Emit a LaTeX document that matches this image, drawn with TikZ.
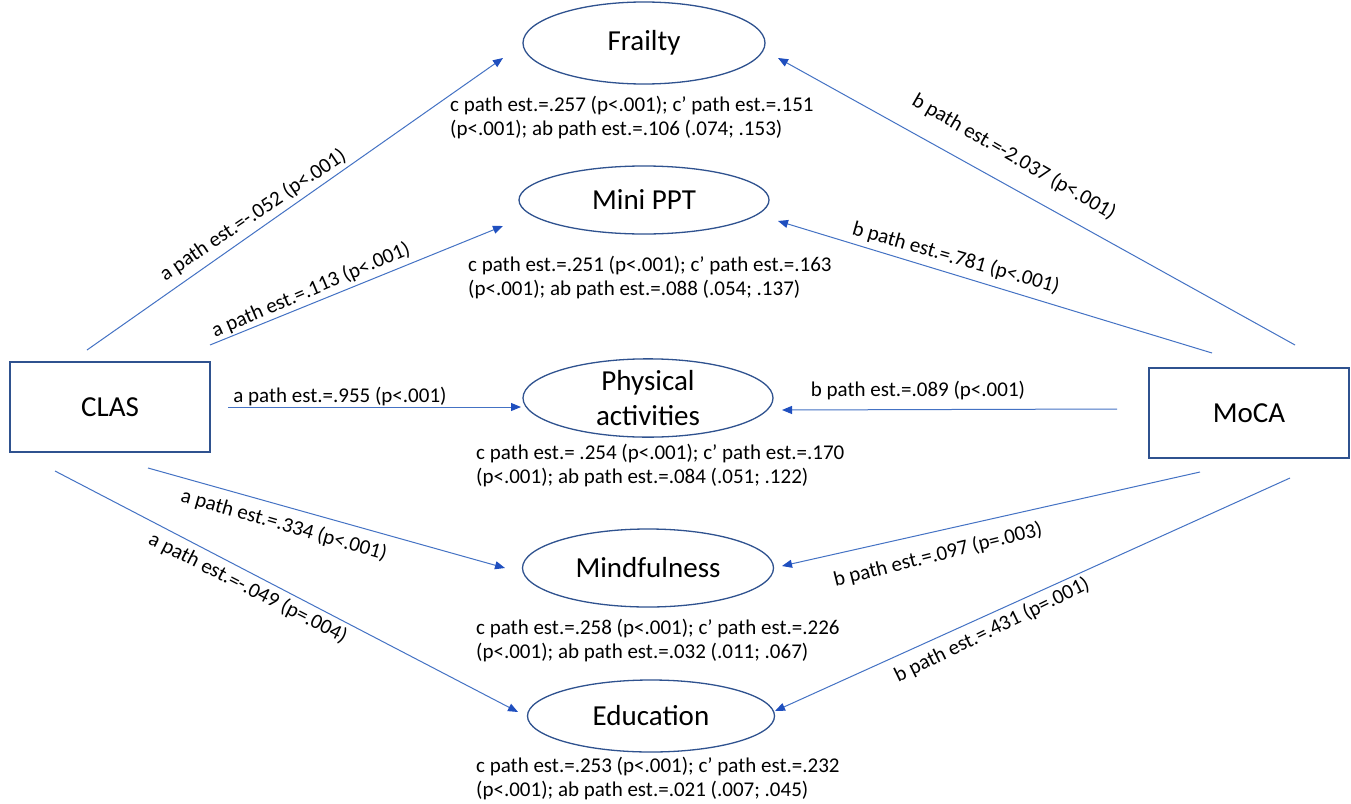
\documentclass[tikz,border=0pt]{standalone}
\usepackage{fontspec}
\setmainfont{Carlito}
\usetikzlibrary{shapes.geometric,arrows.meta}
\definecolor{lineblue}{HTML}{4472C4}
\definecolor{nodeblue}{HTML}{2F528F}
\definecolor{tipblue}{HTML}{1F4FBF}
\begin{document}
\begin{tikzpicture}[x=1pt,y=-1pt,
  box/.style={draw=nodeblue,line width=1.3pt,minimum width=200pt,minimum height=90pt,inner sep=0pt,font=\fontsize{29}{32}\selectfont},
  ell/.style={ellipse,draw=nodeblue,line width=1.3pt,inner sep=0pt,align=center,font=\fontsize{29}{35}\selectfont},
  conn/.style={draw=lineblue,line width=1pt,-{Triangle[length=10pt,width=8pt,color=tipblue]}},
  lbl/.style={inner sep=0pt,font=\fontsize{21}{24}\selectfont},
  res/.style={inner sep=0pt,align=left,anchor=west,font=\fontsize{21}{24}\selectfont}]
\useasboundingbox (0,0) rectangle (1351,803);
\fill[white] (0,0) rectangle (1351,803);

% main nodes
\node[box] (clas) at (110,407) {CLAS};
\node[box] (moca) at (1249,413) {MoCA};
\node[ell,minimum width=242pt,minimum height=82pt] (frailty) at (644,43) {Frailty};
\node[ell,minimum width=250pt,minimum height=68pt] (ppt) at (644,200) {Mini PPT};
\node[ell,minimum width=250pt,minimum height=75pt] (phys) at (648,398) {Physical\\activities};
\node[ell,minimum width=251pt,minimum height=78pt] (mind) at (648,568) {Mindfulness};
\node[ell,minimum width=247pt,minimum height=72pt] (edu) at (651,716) {Education};

% result texts
\node[res] (rfrailty) at (450,118) {c path est.=.257 (p<.001); c’ path est.=.151\\(p<.001); ab path est.=.106 (.074; .153)};
\node[res] (rppt) at (468,278) {c path est.=.251 (p<.001); c’ path est.=.163\\(p<.001); ab path est.=.088 (.054; .137)};
\node[res] (rphys) at (476,466) {c path est.= .254 (p<.001); c’ path est.=.170\\(p<.001); ab path est.=.084 (.051; .122)};
\node[res] (rmind) at (476,641) {c path est.=.258 (p<.001); c’ path est.=.226\\(p<.001); ab path est.=.032 (.011; .067)};
\node[res] (redu) at (476,778) {c path est.=.253 (p<.001); c’ path est.=.232\\(p<.001); ab path est.=.021 (.007; .045)};

% connector ends
\coordinate (ca1) at (87,350);   \coordinate (ta1) at (503,58);
\coordinate (ca2) at (210,345);  \coordinate (ta2) at (503,226);
\coordinate (ca3) at (228,407);  \coordinate (ta3) at (521,407);
\coordinate (ca4) at (148,468);  \coordinate (ta4) at (505,568);
\coordinate (ca5) at (55,471);   \coordinate (ta5) at (518,712);
\coordinate (cb1) at (1295,345); \coordinate (tb1) at (778,58);
\coordinate (cb2) at (1212,353); \coordinate (tb2) at (778,221);
\coordinate (cb3) at (1117,409); \coordinate (tb3) at (782,410);
\coordinate (cb4) at (1200,472); \coordinate (tb4) at (782,566);
\coordinate (cb5) at (1290,478); \coordinate (tb5) at (775,711);

\draw[conn] (ca1) -- (ta1);
\draw[conn] (ca2) -- (ta2);
\draw[conn] (ca3) -- (ta3);
\draw[conn] (ca4) -- (ta4);
\draw[conn] (ca5) -- (ta5);
\draw[conn] (cb1) -- (tb1);
\draw[conn] (cb2) -- (tb2);
\draw[conn] (cb3) -- (tb3);
\draw[conn] (cb4) -- (tb4);
\draw[conn] (cb5) -- (tb5);

% path labels
\node[lbl,rotate=34] (la1) at (253,215) {a path est.=-.052 (p<.001)};
\node[lbl,rotate=23] (la2) at (311,290) {a path est.=.113 (p<.001)};
\node[lbl] (la3) at (340,397) {a path est.=.955 (p<.001)};
\node[lbl,rotate=-16] (la4) at (284,525) {a path est.=.334 (p<.001)};
\node[lbl,rotate=-27] (la5) at (248,588) {a path est.=-.049 (p=.004)};
\node[lbl,rotate=-30] (lb1) at (1014,157) {b path est.=-2.037 (p<.001)};
\node[lbl,rotate=-16] (lb2) at (956,258) {b path est.=.781 (p<.001)};
\node[lbl] (lb3) at (918,391) {b path est.=.089 (p<.001)};
\node[lbl,rotate=14] (lb4) at (938,555) {b path est.=.097 (p=.003)};
\node[lbl,rotate=26] (lb5) at (992,630) {b path est.=.431 (p=.001)};
\end{tikzpicture}
\end{document}
